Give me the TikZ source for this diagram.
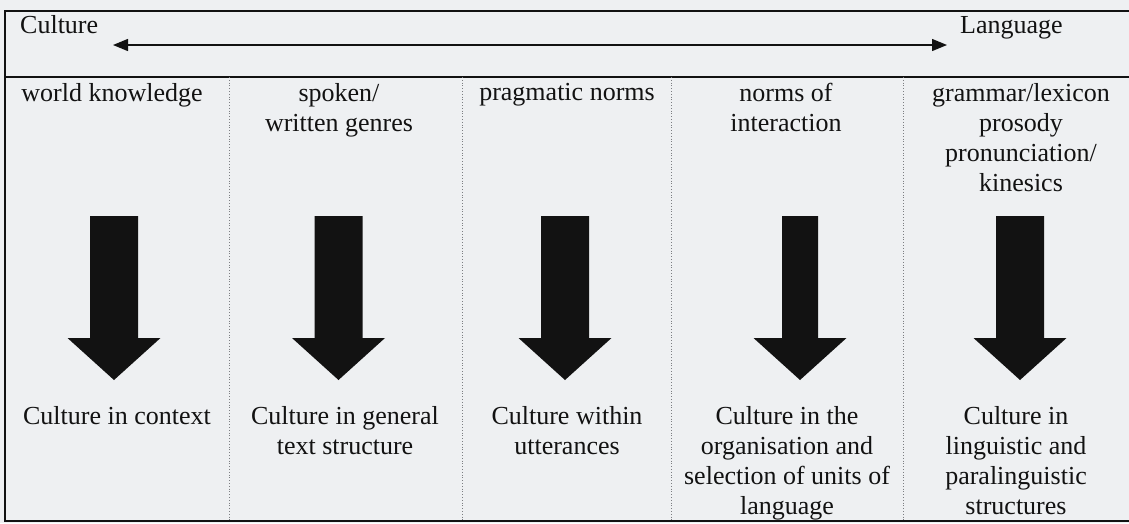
\documentclass[tikz,border=0pt]{standalone}
\usepackage{fontspec}
\setmainfont{Liberation Serif}
\usetikzlibrary{
  arrows.meta,
  positioning
}
\definecolor{scanpaper}{HTML}{EEF0F2}
\definecolor{scanink}{HTML}{121212}
\definecolor{scangrid}{HTML}{7C7E82}

\begin{document}
\begin{tikzpicture}[
    x=1pt, y=-1pt,
    cell/.style={
      anchor=north, inner sep=0pt, align=center,
      font=\fontsize{26}{30}\selectfont, text=scanink
    },
    pole/.style={
      anchor=base west, inner sep=0pt,
      font=\fontsize{26}{30}\selectfont, text=scanink
    },
    rule/.style={line width=1.6pt, scanink},
    divider/.style={line width=0.8pt, scangrid, dotted},
    blockarrow/.style={fill=scanink, draw=none},
    span/.style={{Triangle[length=15pt,width=12pt]}-{Triangle[length=15pt,width=12pt]}, line width=1.3pt, scanink}
  ]
  \fill[scanpaper] (0,0) rectangle (1129,523);
  \useasboundingbox (0,0) rectangle (1129,523);

  % frame and column rules
  \draw[rule] (1129,11) -- (5,11) -- (5,521) -- (1129,521);
  \draw[rule] (5,77) -- (1129,77);
  \foreach \gx in {229,462,671,903}
    \draw[divider] (\gx,77) -- (\gx,521);

  % header row
  \node[pole] (cul) at (20,33) {Culture};
  \node[pole] (lang) at (960,33) {Language};
  \coordinate (cl) at (113,45);
  \coordinate (lr) at (947,45);
  \draw[span] (cl) -- (lr);

  % what sits at the top of each column
  \node[cell] (world) at (112,83) {world knowledge};
  \node[cell] (genres) at (339,83) {spoken/\\written genres};
  \node[cell] (prag) at (567,83) {pragmatic norms};
  \node[cell] (inter) at (786,83) {norms of\\interaction};
  \node[cell] (gram) at (1021,83) {grammar/lexicon\\prosody\\pronunciation/\\kinesics};

  % big arrows
  \foreach \cx/\sw in {114/24, 338.5/24, 565/24, 800/18, 1020/24}
    \fill[blockarrow] (\cx-\sw,216) -- (\cx+\sw,216) -- (\cx+\sw,338)
      -- (\cx+46.5,338) -- (\cx,380) -- (\cx-46.5,338) -- (\cx-\sw,338) -- cycle;

  % what comes out at the bottom
  \node[cell] (context) at (117,406) {Culture in context};
  \node[cell] (structure) at (345,406) {Culture in general\\text structure};
  \node[cell] (utter) at (567,406) {Culture within\\utterances};
  \node[cell] (units) at (787,406) {Culture in the\\organisation and\\selection of units of\\language};
  \node[cell] (ling) at (1016,406) {Culture in\\linguistic and\\paralinguistic\\structures};
\end{tikzpicture}
\end{document}
